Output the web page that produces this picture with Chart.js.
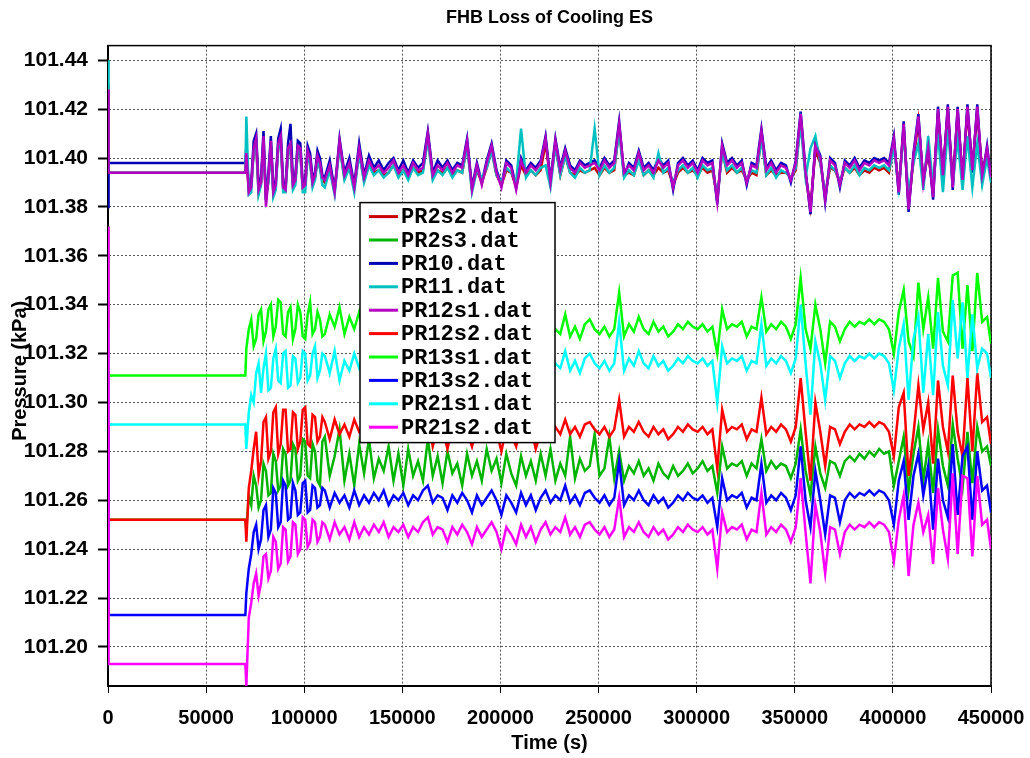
<!DOCTYPE html>
<html>
<head>
<meta charset="utf-8">
<title>FHB Loss of Cooling ES</title>
<script src="https://cdn.jsdelivr.net/npm/chart.js@4.4.1/dist/chart.umd.min.js"></script>
<style>
  html, body { margin: 0; padding: 0; background: #fff; }
  #wrap { width: 1030px; height: 758px; }
</style>
</head>
<body>
<div id="wrap"><canvas id="pressureChart" width="1030" height="758"></canvas></div>
<script>
// sample times (s)
const times = [
  0, 300, 70000,
  70500, 71750, 73000, 74250, 75500, 76750, 78000, 79250, 80500, 81750, 83000,
  84250, 85500, 86750, 88000, 89250, 90500, 91750, 93000, 94250, 95500, 96750,
  98000, 99250, 100500, 101750, 103000, 104250, 105500, 106750, 108000, 109250, 110500,
  113000, 115500, 118000,
  120500, 123000, 125500, 128000, 130500, 133000, 135500, 138000, 140500, 143000,
  145500, 148000, 150500, 153000, 155500, 158000, 160500, 163000, 165500, 168000,
  170500, 173000, 175500, 178000, 180500, 183000, 185500, 188000, 190500, 193000,
  195500, 198000, 200500, 203000, 205500, 208000, 210500, 213000, 215500, 218000,
  220500, 223000, 225500, 228000, 230500, 233000, 235500, 238000, 240500, 243000,
  245500, 248000, 250500, 253000, 255500, 258000, 260500, 263000, 265500, 268000,
  270500, 273000, 275500, 278000, 280500, 283000, 285500, 288000, 290500, 293000,
  295500, 298000, 300500, 303000, 305500, 308000, 310500, 313000, 315500, 318000,
  320500, 323000, 325500, 328000, 330500, 333000, 335500, 338000, 340500, 343000,
  345500, 348000, 350500, 353000, 355500, 358000, 360500, 363000, 365500, 368000,
  370500, 373000, 375500, 378000, 380500, 383000, 385500, 388000, 390500, 393000,
  395500, 398000, 400500, 403000, 405500, 408000, 410500, 413000, 415500, 418000,
  420500, 423000, 425500, 428000, 430500, 433000, 435500, 438000, 440500, 443000,
  445500, 448000,
  450000
];

const seriesNames = ['PR2s2.dat', 'PR2s3.dat', 'PR10.dat', 'PR11.dat', 'PR12s1.dat',
                     'PR12s2.dat', 'PR13s1.dat', 'PR13s2.dat', 'PR21s1.dat', 'PR21s2.dat'];
const seriesColors = ['#c80000', '#00b400', '#0000b4', '#00c0c0', '#b400c0',
                      '#ff0000', '#00ff00', '#0000ff', '#00ffff', '#ff00ff'];

// pressures (kPa)
const pr2s2 = [
  101.430, 101.394, 101.394,
  101.400, 101.387, 101.389, 101.403, 101.406, 101.386, 101.390, 101.406, 101.383, 101.391, 101.405,
  101.386, 101.390, 101.404, 101.407, 101.388, 101.388, 101.402, 101.404, 101.389, 101.391, 101.403,
  101.402, 101.388, 101.389, 101.401, 101.398, 101.390, 101.392, 101.399, 101.396, 101.391, 101.390,
  101.395, 101.387, 101.405,
  101.392, 101.396, 101.388, 101.402, 101.391, 101.397, 101.394, 101.395, 101.393, 101.394,
  101.397, 101.393, 101.395, 101.392, 101.396, 101.394, 101.395, 101.408, 101.392, 101.395,
  101.394, 101.396, 101.393, 101.395, 101.394, 101.405, 101.388, 101.395, 101.390, 101.396,
  101.403, 101.393, 101.389, 101.395, 101.394, 101.388, 101.397, 101.393, 101.395, 101.393,
  101.395, 101.406, 101.391, 101.405, 101.393, 101.401, 101.394, 101.393, 101.395, 101.394,
  101.395, 101.396, 101.393, 101.396, 101.394, 101.395, 101.412, 101.393, 101.394, 101.393,
  101.400, 101.393, 101.395, 101.393, 101.396, 101.394, 101.395, 101.389, 101.394, 101.396,
  101.394, 101.395, 101.393, 101.396, 101.394, 101.395, 101.384, 101.403, 101.394, 101.396,
  101.394, 101.395, 101.391, 101.394, 101.393, 101.409, 101.393, 101.395, 101.393, 101.394,
  101.394, 101.392, 101.395, 101.416, 101.393, 101.380, 101.403, 101.398, 101.385, 101.396,
  101.395, 101.390, 101.396, 101.394, 101.396, 101.393, 101.395, 101.394, 101.396, 101.395,
  101.396, 101.394, 101.406, 101.388, 101.412, 101.381, 101.399, 101.415, 101.391, 101.402,
  101.386, 101.418, 101.394, 101.419, 101.390, 101.418, 101.392, 101.419, 101.396, 101.419,
  101.394, 101.402,
  101.392
];
const pr2s3 = [
  101.360, 101.252, 101.252,
  101.248, 101.262, 101.258, 101.270, 101.266, 101.257, 101.260, 101.275, 101.272, 101.262, 101.263,
  101.279, 101.276, 101.264, 101.266, 101.281, 101.279, 101.266, 101.268, 101.283, 101.281, 101.268,
  101.270, 101.285, 101.284, 101.270, 101.269, 101.283, 101.280, 101.268, 101.266, 101.284, 101.286,
  101.270, 101.278, 101.289,
  101.268, 101.279, 101.266, 101.283, 101.271, 101.285, 101.269, 101.277, 101.272, 101.282,
  101.268, 101.279, 101.266, 101.281, 101.270, 101.276, 101.268, 101.285, 101.270, 101.278,
  101.267, 101.280, 101.271, 101.275, 101.266, 101.279, 101.270, 101.276, 101.268, 101.281,
  101.272, 101.277, 101.267, 101.279, 101.271, 101.266, 101.278, 101.270, 101.276, 101.268,
  101.279, 101.270, 101.281, 101.268, 101.275, 101.270, 101.286, 101.269, 101.277, 101.272,
  101.274, 101.287, 101.270, 101.273, 101.286, 101.269, 101.280, 101.268, 101.274, 101.271,
  101.276, 101.270, 101.273, 101.268, 101.275, 101.271, 101.269, 101.274, 101.270, 101.272,
  101.275, 101.271, 101.273, 101.276, 101.272, 101.274, 101.263, 101.282, 101.273, 101.275,
  101.274, 101.276, 101.270, 101.275, 101.273, 101.285, 101.272, 101.276, 101.273, 101.275,
  101.274, 101.269, 101.275, 101.289, 101.272, 101.262, 101.282, 101.271, 101.265, 101.276,
  101.275, 101.270, 101.276, 101.278, 101.276, 101.279, 101.277, 101.280, 101.278, 101.281,
  101.279, 101.280, 101.266, 101.276, 101.286, 101.264, 101.279, 101.290, 101.268, 101.283,
  101.263, 101.289, 101.274, 101.266, 101.291, 101.277, 101.265, 101.288, 101.267, 101.290,
  101.280, 101.282,
  101.274
];
const pr10 = [
  101.380, 101.398, 101.398,
  101.405, 101.388, 101.390, 101.407, 101.410, 101.389, 101.392, 101.411, 101.383, 101.394, 101.409,
  101.387, 101.391, 101.408, 101.412, 101.390, 101.389, 101.406, 101.414, 101.391, 101.393, 101.407,
  101.406, 101.390, 101.391, 101.405, 101.402, 101.392, 101.394, 101.403, 101.400, 101.393, 101.392,
  101.399, 101.387, 101.408,
  101.394, 101.400, 101.389, 101.406, 101.393, 101.401, 101.396, 101.399, 101.395, 101.398,
  101.400, 101.395, 101.399, 101.394, 101.399, 101.396, 101.398, 101.411, 101.394, 101.399,
  101.396, 101.399, 101.395, 101.398, 101.397, 101.408, 101.388, 101.398, 101.390, 101.399,
  101.406, 101.395, 101.389, 101.399, 101.397, 101.388, 101.400, 101.395, 101.398, 101.396,
  101.399, 101.409, 101.391, 101.408, 101.396, 101.404, 101.397, 101.395, 101.399, 101.397,
  101.398, 101.399, 101.396, 101.400, 101.397, 101.399, 101.415, 101.393, 101.398, 101.396,
  101.403, 101.396, 101.398, 101.395, 101.400, 101.397, 101.399, 101.387, 101.398, 101.400,
  101.397, 101.399, 101.395, 101.400, 101.398, 101.399, 101.381, 101.406, 101.398, 101.400,
  101.397, 101.399, 101.389, 101.398, 101.397, 101.412, 101.396, 101.399, 101.395, 101.398,
  101.397, 101.390, 101.399, 101.419, 101.395, 101.377, 101.406, 101.401, 101.382, 101.400,
  101.398, 101.388, 101.399, 101.397, 101.400, 101.396, 101.399, 101.398, 101.400, 101.399,
  101.400, 101.398, 101.409, 101.385, 101.415, 101.378, 101.402, 101.418, 101.389, 101.405,
  101.383, 101.421, 101.392, 101.422, 101.387, 101.421, 101.390, 101.422, 101.394, 101.422,
  101.392, 101.405,
  101.391
];
const pr11 = [
  101.440, 101.394, 101.394,
  101.417, 101.385, 101.386, 101.403, 101.406, 101.385, 101.389, 101.406, 101.384, 101.390, 101.405,
  101.384, 101.387, 101.404, 101.407, 101.386, 101.386, 101.402, 101.404, 101.387, 101.389, 101.403,
  101.402, 101.386, 101.386, 101.401, 101.398, 101.388, 101.391, 101.399, 101.396, 101.389, 101.388,
  101.395, 101.385, 101.405,
  101.391, 101.396, 101.386, 101.402, 101.390, 101.397, 101.393, 101.395, 101.392, 101.394,
  101.397, 101.392, 101.395, 101.391, 101.396, 101.393, 101.394, 101.408, 101.391, 101.395,
  101.393, 101.396, 101.392, 101.395, 101.394, 101.405, 101.386, 101.395, 101.392, 101.396,
  101.403, 101.393, 101.390, 101.396, 101.394, 101.390, 101.412, 101.392, 101.395, 101.393,
  101.396, 101.397, 101.388, 101.405, 101.393, 101.401, 101.394, 101.392, 101.396, 101.394,
  101.395, 101.412, 101.393, 101.397, 101.394, 101.396, 101.411, 101.392, 101.395, 101.393,
  101.399, 101.393, 101.395, 101.392, 101.402, 101.394, 101.396, 101.390, 101.395, 101.397,
  101.394, 101.396, 101.392, 101.397, 101.395, 101.396, 101.384, 101.402, 101.395, 101.397,
  101.394, 101.396, 101.391, 101.395, 101.394, 101.408, 101.393, 101.396, 101.392, 101.395,
  101.394, 101.392, 101.396, 101.414, 101.392, 101.404, 101.409, 101.398, 101.385, 101.397,
  101.395, 101.391, 101.396, 101.394, 101.397, 101.393, 101.396, 101.395, 101.397, 101.396,
  101.397, 101.395, 101.404, 101.388, 101.410, 101.386, 101.398, 101.406, 101.387, 101.409,
  101.388, 101.410, 101.386, 101.412, 101.389, 101.408, 101.387, 101.409, 101.388, 101.406,
  101.389, 101.400,
  101.390
];
const pr12s1 = [
  101.428, 101.394, 101.394,
  101.402, 101.386, 101.388, 101.404, 101.408, 101.387, 101.390, 101.409, 101.380, 101.392, 101.407,
  101.386, 101.389, 101.406, 101.409, 101.388, 101.387, 101.404, 101.406, 101.389, 101.391, 101.405,
  101.404, 101.388, 101.389, 101.403, 101.400, 101.390, 101.393, 101.401, 101.398, 101.392, 101.391,
  101.397, 101.386, 101.407,
  101.393, 101.398, 101.388, 101.404, 101.392, 101.399, 101.395, 101.397, 101.394, 101.396,
  101.399, 101.394, 101.397, 101.393, 101.398, 101.395, 101.396, 101.410, 101.393, 101.397,
  101.395, 101.398, 101.394, 101.397, 101.396, 101.407, 101.387, 101.397, 101.389, 101.398,
  101.405, 101.394, 101.388, 101.398, 101.396, 101.387, 101.399, 101.394, 101.397, 101.395,
  101.398, 101.408, 101.390, 101.407, 101.395, 101.403, 101.396, 101.394, 101.398, 101.396,
  101.397, 101.398, 101.395, 101.399, 101.396, 101.398, 101.414, 101.394, 101.397, 101.395,
  101.402, 101.395, 101.397, 101.394, 101.399, 101.396, 101.398, 101.388, 101.397, 101.399,
  101.396, 101.398, 101.394, 101.399, 101.397, 101.398, 101.382, 101.405, 101.397, 101.399,
  101.396, 101.398, 101.390, 101.397, 101.396, 101.411, 101.395, 101.398, 101.394, 101.397,
  101.396, 101.391, 101.398, 101.418, 101.394, 101.378, 101.405, 101.400, 101.383, 101.399,
  101.397, 101.389, 101.398, 101.396, 101.399, 101.395, 101.398, 101.397, 101.399, 101.398,
  101.399, 101.397, 101.408, 101.386, 101.414, 101.379, 101.401, 101.417, 101.390, 101.404,
  101.384, 101.420, 101.393, 101.421, 101.388, 101.420, 101.391, 101.421, 101.395, 101.421,
  101.393, 101.404,
  101.392
];
const pr12s2 = [
  101.330, 101.252, 101.252,
  101.243, 101.265, 101.272, 101.281, 101.288, 101.270, 101.276, 101.292, 101.294, 101.277, 101.280,
  101.296, 101.298, 101.279, 101.283, 101.297, 101.297, 101.280, 101.281, 101.296, 101.295, 101.281,
  101.284, 101.297, 101.298, 101.283, 101.282, 101.295, 101.294, 101.284, 101.286, 101.294, 101.292,
  101.285, 101.293, 101.287,
  101.291, 101.286, 101.293, 101.288, 101.290, 101.287, 101.291, 101.288, 101.292, 101.287,
  101.290, 101.288, 101.291, 101.286, 101.290, 101.288, 101.292, 101.294, 101.282, 101.290,
  101.289, 101.281, 101.290, 101.287, 101.291, 101.288, 101.282, 101.290, 101.286, 101.289,
  101.292, 101.288, 101.280, 101.290, 101.287, 101.282, 101.291, 101.286, 101.290, 101.281,
  101.288, 101.291, 101.286, 101.290, 101.287, 101.293, 101.287, 101.290, 101.286, 101.291,
  101.292, 101.289, 101.287, 101.290, 101.286, 101.289, 101.301, 101.286, 101.290, 101.288,
  101.292, 101.288, 101.286, 101.290, 101.287, 101.289, 101.285, 101.287, 101.290, 101.288,
  101.291, 101.289, 101.288, 101.290, 101.287, 101.289, 101.273, 101.297, 101.288, 101.290,
  101.289, 101.291, 101.285, 101.289, 101.288, 101.302, 101.287, 101.290, 101.288, 101.291,
  101.289, 101.284, 101.290, 101.310, 101.288, 101.268, 101.300, 101.288, 101.274, 101.290,
  101.289, 101.283, 101.288, 101.291, 101.289, 101.291, 101.290, 101.292, 101.290, 101.292,
  101.291, 101.288, 101.278, 101.298, 101.304, 101.270, 101.287, 101.307, 101.289, 101.300,
  101.275, 101.309, 101.290, 101.280, 101.311, 101.288, 101.278, 101.310, 101.280, 101.312,
  101.292, 101.294,
  101.283
];
const pr13s1 = [
  101.372, 101.311, 101.311,
  101.322, 101.330, 101.334, 101.323, 101.326, 101.336, 101.338, 101.325, 101.329, 101.338, 101.340,
  101.327, 101.331, 101.342, 101.341, 101.328, 101.327, 101.337, 101.339, 101.326, 101.330, 101.340,
  101.337, 101.327, 101.326, 101.336, 101.341, 101.328, 101.330, 101.337, 101.334, 101.327, 101.328,
  101.336, 101.331, 101.339,
  101.328, 101.335, 101.330, 101.337, 101.328, 101.332, 101.329, 101.334, 101.330, 101.333,
  101.331, 101.328, 101.334, 101.330, 101.333, 101.329, 101.332, 101.337, 101.329, 101.333,
  101.330, 101.335, 101.331, 101.328, 101.333, 101.330, 101.326, 101.334, 101.329, 101.332,
  101.335, 101.330, 101.326, 101.333, 101.330, 101.324, 101.333, 101.329, 101.335, 101.331,
  101.327, 101.332, 101.326, 101.330, 101.328, 101.336, 101.327, 101.331, 101.326, 101.332,
  101.334, 101.330, 101.328, 101.331, 101.327, 101.330, 101.345, 101.327, 101.332, 101.329,
  101.335, 101.330, 101.328, 101.333, 101.329, 101.331, 101.327, 101.329, 101.332, 101.330,
  101.333, 101.331, 101.330, 101.332, 101.329, 101.331, 101.320, 101.338, 101.330, 101.332,
  101.331, 101.333, 101.327, 101.331, 101.330, 101.343, 101.329, 101.332, 101.330, 101.333,
  101.331, 101.326, 101.332, 101.351, 101.330, 101.322, 101.340, 101.330, 101.316, 101.333,
  101.331, 101.325, 101.330, 101.333, 101.331, 101.333, 101.332, 101.334, 101.332, 101.334,
  101.333, 101.330, 101.320, 101.337, 101.346, 101.325, 101.319, 101.349, 101.330, 101.343,
  101.322, 101.351, 101.329, 101.325, 101.352, 101.353, 101.322, 101.348, 101.321, 101.353,
  101.333, 101.335,
  101.324
];
const pr13s2 = [
  101.300, 101.213, 101.213,
  101.222, 101.232, 101.238, 101.247, 101.250, 101.240, 101.244, 101.256, 101.258, 101.245, 101.248,
  101.265, 101.263, 101.249, 101.251, 101.268, 101.266, 101.252, 101.253, 101.267, 101.264, 101.254,
  101.255, 101.267, 101.268, 101.255, 101.256, 101.266, 101.265, 101.257, 101.258, 101.265, 101.264,
  101.257, 101.263, 101.259,
  101.262, 101.257, 101.264, 101.258, 101.262, 101.259, 101.263, 101.260, 101.264, 101.258,
  101.262, 101.260, 101.263, 101.258, 101.262, 101.260, 101.264, 101.266, 101.259, 101.262,
  101.261, 101.256, 101.262, 101.259, 101.263, 101.260, 101.255, 101.262, 101.258, 101.261,
  101.264, 101.260, 101.254, 101.262, 101.259, 101.255, 101.263, 101.258, 101.262, 101.256,
  101.261, 101.264, 101.259, 101.262, 101.260, 101.266, 101.259, 101.262, 101.258, 101.263,
  101.264, 101.261, 101.259, 101.262, 101.258, 101.261, 101.276, 101.258, 101.262, 101.260,
  101.264, 101.260, 101.258, 101.262, 101.259, 101.261, 101.257, 101.259, 101.262, 101.260,
  101.263, 101.261, 101.260, 101.262, 101.259, 101.261, 101.249, 101.269, 101.260, 101.262,
  101.261, 101.263, 101.257, 101.261, 101.260, 101.275, 101.259, 101.262, 101.260, 101.263,
  101.261, 101.256, 101.262, 101.282, 101.260, 101.249, 101.272, 101.260, 101.246, 101.262,
  101.261, 101.251, 101.260, 101.263, 101.261, 101.263, 101.262, 101.264, 101.262, 101.264,
  101.263, 101.260, 101.250, 101.268, 101.276, 101.252, 101.270, 101.279, 101.262, 101.274,
  101.248, 101.277, 101.260, 101.253, 101.283, 101.254, 101.278, 101.282, 101.252, 101.280,
  101.264, 101.266,
  101.255
];
const pr21s1 = [
  101.330, 101.291, 101.291,
  101.281, 101.296, 101.303, 101.300, 101.312, 101.316, 101.304, 101.314, 101.320, 101.305, 101.306,
  101.318, 101.322, 101.309, 101.308, 101.320, 101.321, 101.306, 101.307, 101.319, 101.318, 101.308,
  101.310, 101.321, 101.320, 101.309, 101.311, 101.320, 101.323, 101.310, 101.313, 101.320, 101.319,
  101.312, 101.321, 101.309,
  101.317, 101.313, 101.320, 101.314, 101.318, 101.315, 101.319, 101.316, 101.318, 101.314,
  101.317, 101.315, 101.319, 101.314, 101.318, 101.316, 101.319, 101.322, 101.315, 101.318,
  101.316, 101.320, 101.315, 101.313, 101.318, 101.316, 101.312, 101.319, 101.315, 101.317,
  101.321, 101.315, 101.311, 101.318, 101.316, 101.310, 101.319, 101.314, 101.320, 101.316,
  101.313, 101.318, 101.312, 101.316, 101.314, 101.321, 101.313, 101.317, 101.312, 101.318,
  101.320, 101.316, 101.314, 101.317, 101.313, 101.316, 101.333, 101.313, 101.318, 101.315,
  101.321, 101.316, 101.314, 101.319, 101.315, 101.317, 101.313, 101.315, 101.318, 101.316,
  101.319, 101.317, 101.316, 101.318, 101.315, 101.317, 101.300, 101.323, 101.316, 101.318,
  101.317, 101.319, 101.313, 101.317, 101.316, 101.332, 101.315, 101.318, 101.316, 101.319,
  101.317, 101.312, 101.318, 101.340, 101.316, 101.295, 101.325, 101.316, 101.301, 101.319,
  101.317, 101.310, 101.316, 101.319, 101.317, 101.319, 101.318, 101.320, 101.318, 101.320,
  101.319, 101.316, 101.305, 101.322, 101.332, 101.301, 101.326, 101.335, 101.304, 101.328,
  101.303, 101.337, 101.315, 101.307, 101.342, 101.318, 101.341, 101.310, 101.336, 101.314,
  101.322, 101.320,
  101.310
];
const pr21s2 = [
  101.372, 101.193, 101.193,
  101.184, 101.212, 101.218, 101.226, 101.230, 101.221, 101.226, 101.237, 101.238, 101.228, 101.231,
  101.245, 101.243, 101.232, 101.234, 101.249, 101.248, 101.235, 101.237, 101.251, 101.250, 101.238,
  101.240, 101.253, 101.252, 101.241, 101.243, 101.252, 101.251, 101.243, 101.245, 101.251, 101.250,
  101.244, 101.251, 101.246,
  101.249, 101.244, 101.251, 101.245, 101.249, 101.246, 101.250, 101.247, 101.251, 101.245,
  101.249, 101.247, 101.250, 101.245, 101.249, 101.247, 101.251, 101.253, 101.246, 101.249,
  101.248, 101.243, 101.249, 101.246, 101.250, 101.247, 101.242, 101.249, 101.245, 101.248,
  101.251, 101.247, 101.240, 101.249, 101.246, 101.242, 101.250, 101.245, 101.249, 101.243,
  101.248, 101.251, 101.246, 101.249, 101.247, 101.253, 101.246, 101.249, 101.245, 101.250,
  101.251, 101.248, 101.246, 101.249, 101.245, 101.248, 101.261, 101.245, 101.249, 101.247,
  101.251, 101.247, 101.245, 101.249, 101.246, 101.248, 101.244, 101.246, 101.249, 101.247,
  101.250, 101.248, 101.247, 101.249, 101.246, 101.248, 101.232, 101.255, 101.247, 101.249,
  101.248, 101.250, 101.244, 101.248, 101.247, 101.263, 101.246, 101.249, 101.247, 101.250,
  101.248, 101.243, 101.249, 101.269, 101.247, 101.226, 101.258, 101.247, 101.230, 101.249,
  101.248, 101.238, 101.247, 101.250, 101.248, 101.250, 101.249, 101.251, 101.249, 101.251,
  101.250, 101.247, 101.235, 101.252, 101.262, 101.229, 101.250, 101.259, 101.247, 101.254,
  101.234, 101.265, 101.248, 101.236, 101.271, 101.238, 101.270, 101.269, 101.237, 101.270,
  101.250, 101.252,
  101.240
];

const seriesValues = [pr2s2, pr2s3, pr10, pr11, pr12s1, pr12s2, pr13s1, pr13s2, pr21s1, pr21s2];

const xTicks = [0, 50000, 100000, 150000, 200000, 250000, 300000, 350000, 400000, 450000];
const yTicks = [101.20, 101.22, 101.24, 101.26, 101.28, 101.30, 101.32, 101.34, 101.36, 101.38, 101.40, 101.42, 101.44];

Chart.defaults.font.family = '"Liberation Sans", Arial, sans-serif';
Chart.defaults.color = '#000';

const datasets = seriesNames.map((name, i) => ({
    label: name,
    data: times.map((t, j) => ({ x: t, y: seriesValues[i][j] })),
    borderColor: seriesColors[i],
    backgroundColor: seriesColors[i],
    borderWidth: 2.5,
    pointRadius: 0,
    tension: 0,
    fill: false,
    order: seriesNames.length - i   // later files drawn on top
}));

// frame around plot area + rotated y title
const framePlugin = {
    id: 'frame',
    beforeDatasetsDraw(chart) {
        const { ctx, chartArea } = chart;
        ctx.save();
        ctx.strokeStyle = '#000';
        ctx.lineWidth = 1.5;
        ctx.strokeRect(chartArea.left, chartArea.top, chartArea.right - chartArea.left, chartArea.bottom - chartArea.top);
        ctx.restore();
    },
    afterDraw(chart) {
        const { ctx, chartArea } = chart;
        ctx.save();
        ctx.translate(20, (chartArea.top + chartArea.bottom) / 2 + 5);
        ctx.rotate(-Math.PI / 2);
        ctx.font = 'bold 20px "Liberation Sans", Arial, sans-serif';
        ctx.fillStyle = '#000';
        ctx.textAlign = 'center';
        ctx.textBaseline = 'middle';
        ctx.fillText('Pressure (kPa)', 0, 0);
        ctx.restore();
    }
};

// boxed legend inside the plot
const boxLegend = {
    id: 'boxLegend',
    afterDatasetsDraw(chart) {
        const { ctx, chartArea } = chart;
        const x0 = chartArea.left + 252;
        const y0 = chartArea.top + 157;
        const w = 195, h = 240;
        ctx.save();
        ctx.fillStyle = '#fff';
        ctx.fillRect(x0, y0, w, h);
        ctx.strokeStyle = '#000';
        ctx.lineWidth = 1.5;
        ctx.strokeRect(x0, y0, w, h);
        ctx.font = 'bold 22px "Liberation Mono", "Courier New", monospace';
        ctx.textBaseline = 'middle';
        chart.data.datasets.forEach((ds, i) => {
            const y = y0 + 14 + i * 23.4;
            ctx.strokeStyle = ds.borderColor;
            ctx.lineWidth = 3;
            ctx.beginPath();
            ctx.moveTo(x0 + 9, y);
            ctx.lineTo(x0 + 38, y);
            ctx.stroke();
            ctx.fillStyle = '#000';
            ctx.fillText(ds.label, x0 + 41, y + 1);
        });
        ctx.restore();
    }
};

new Chart(document.getElementById('pressureChart'), {
    type: 'line',
    data: { datasets: datasets },
    options: {
        responsive: false,
        animation: false,
        layout: { padding: { left: 0, right: 39, top: 0, bottom: 0 } },
        plugins: {
            legend: { display: false },
            tooltip: { enabled: false },
            title: {
                display: true,
                text: 'FHB Loss of Cooling ES',
                fullSize: false,
                color: '#000',
                font: { size: 18, weight: 'bold' },
                padding: { top: 7, bottom: 17 }
            }
        },
        scales: {
            x: {
                type: 'linear',
                min: 0,
                max: 450000,
                afterBuildTicks: (s) => { s.ticks = xTicks.map(v => ({ value: v })); },
                afterFit: (s) => { s.height = 72; s.paddingLeft = 0; s.paddingRight = 0; },
                grid: { color: '#555', lineWidth: 1, tickLength: 7, tickColor: '#000', tickWidth: 1 },
                border: { display: true, color: '#000', width: 2, dash: [2, 2] },
                ticks: {
                    color: '#000',
                    font: { size: 20, weight: 'bold' },
                    padding: 13,
                    maxRotation: 0,
                    autoSkip: false,
                    callback: (v) => String(v)
                },
                title: {
                    display: true,
                    text: 'Time (s)',
                    color: '#000',
                    font: { size: 20, weight: 'bold' },
                    padding: { top: 0, bottom: 3 }
                }
            },
            y: {
                type: 'linear',
                min: 101.184,
                max: 101.446,
                afterBuildTicks: (s) => { s.ticks = yTicks.map(v => ({ value: v })); },
                afterFit: (s) => { s.width = 108; s.paddingTop = 0; s.paddingBottom = 0; },
                grid: { color: '#555', lineWidth: 1, tickLength: 10, tickColor: '#000', tickWidth: 2 },
                border: { display: true, color: '#000', width: 2, dash: [2, 2] },
                ticks: {
                    color: '#000',
                    font: { size: 21, weight: 'bold' },
                    padding: 10,
                    callback: (v) => v.toFixed(2)
                }
            }
        }
    },
    plugins: [framePlugin, boxLegend]
});
</script>
</body>
</html>
